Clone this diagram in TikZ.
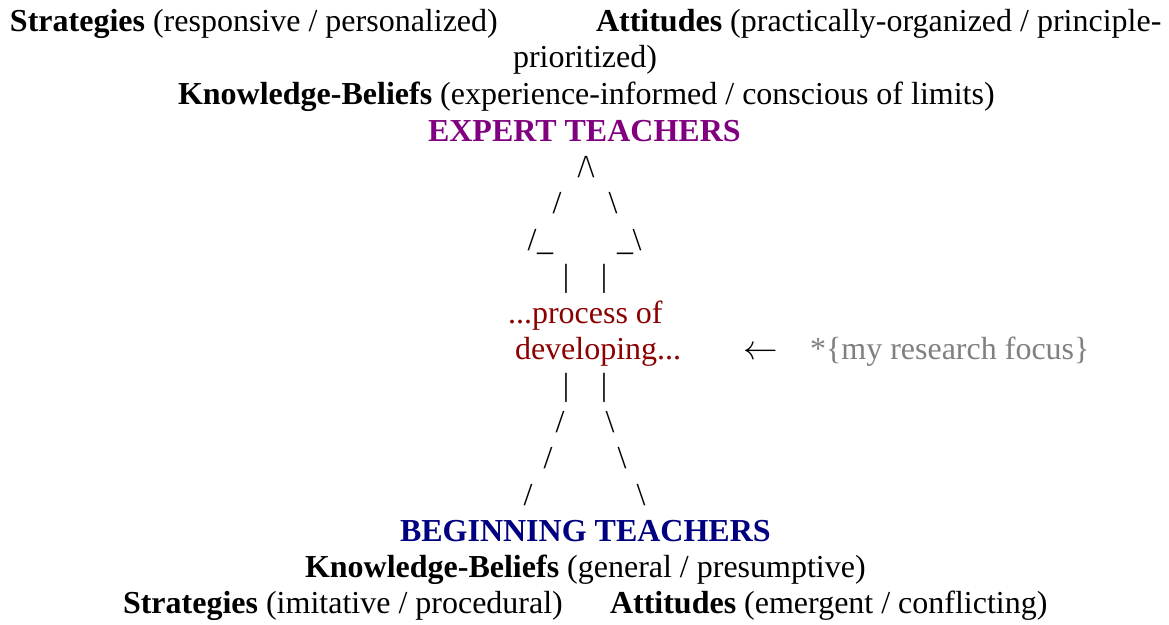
\documentclass[tikz,border=0pt]{standalone}
\usepackage{fontspec}
\setmainfont{Liberation Serif}
\definecolor{expert}{RGB}{128,0,128}
\definecolor{process}{RGB}{139,0,0}
\definecolor{beginner}{RGB}{0,0,128}
\definecolor{focus}{RGB}{128,128,128}
\tikzstyle{txt}=[
    anchor=base west,
    inner sep=0pt,
    outer sep=0pt,
    font=\fontsize{16}{18}\selectfont
]
\tikzstyle{glyph}=[
    anchor=base,
    inner sep=0pt,
    outer sep=0pt,
    font=\fontsize{16}{18}\selectfont
]

\begin{document}
\begin{tikzpicture}[x=0.5pt,y=-0.5pt]
        \useasboundingbox (0,0) rectangle (1169,625);

        % expert side
        \node[txt] (stratexp) at (10,32) {\textbf{Strategies} (responsive / personalized)};
        \node[txt] (attexp) at (596,32) {\textbf{Attitudes} (practically-organized / principle-};
        \node[txt] (attexpb) at (513,68) {prioritized)};
        \node[txt] (kbexp) at (178,105) {\textbf{Knowledge-Beliefs} (experience-informed / conscious of limits)};
        \node[txt, expert] (expert) at (428,142) {\textbf{EXPERT TEACHERS}};

        % ascii path
        \foreach \x/\y [count=\i] in {582/178,557/214,532/251,560/433,548/469,528/506}
            \node[glyph] (sl\i) at (\x,\y) {/};
        \foreach \x/\y [count=\i] in {590/178,613/214,637/251,610/433,622/469,641/506}
            \node[glyph] (bs\i) at (\x,\y) {\textbackslash};
        \foreach \x/\y [count=\i] in {545/251,625/251}
            \node[glyph] (us\i) at (\x,\y) {\_};
        \foreach \x/\y [count=\i] in {566/287,604/287,566/396,604/396}
            \node[glyph] (bar\i) at (\x,\y) {|};

        % process
        \node[txt, process] (proc) at (508,324) {...process of};
        \node[txt, process] (dev) at (515,360) {developing...};
        \node[txt] (arrow) at (743,360) {$\leftarrow$};
        \node[txt, focus] (focus) at (810,360) {*\{my research focus\}};

        % beginning side
        \node[txt, beginner] (begin) at (400,542) {\textbf{BEGINNING TEACHERS}};
        \node[txt] (kbbeg) at (305,578) {\textbf{Knowledge-Beliefs} (general / presumptive)};
        \node[txt] (stratbeg) at (123,614) {\textbf{Strategies} (imitative / procedural)};
        \node[txt] (attbeg) at (610,614) {\textbf{Attitudes} (emergent / conflicting)};

\end{tikzpicture}
\end{document}
